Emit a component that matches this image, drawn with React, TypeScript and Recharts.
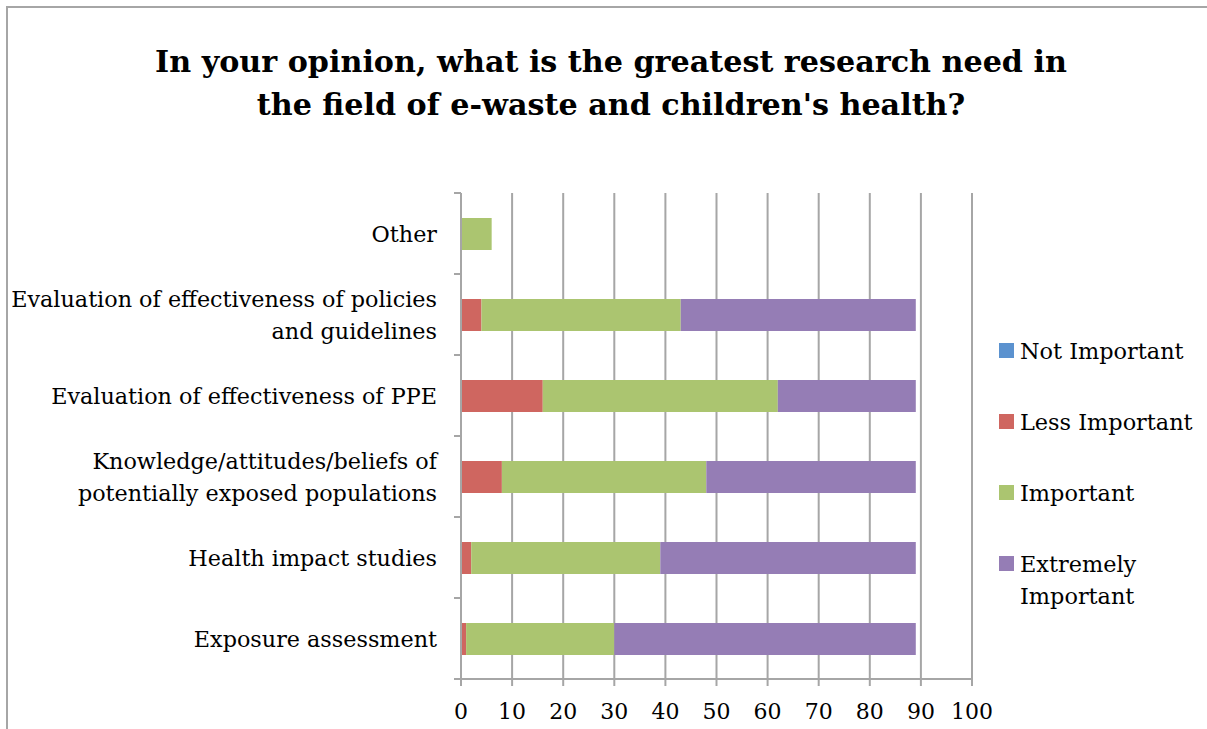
import React from "react";
import { BarChart, Bar, XAxis, YAxis, CartesianGrid, Legend } from "recharts";

const categories = [
  "Other",
  "Evaluation of effectiveness of policies\nand guidelines",
  "Evaluation of effectiveness of PPE",
  "Knowledge/attitudes/beliefs of\npotentially exposed populations",
  "Health impact studies",
  "Exposure assessment",
];
const seriesNames = ["Not Important", "Less Important", "Important", "Extremely Important"];
const notImportant = [0, 0, 0, 0, 0, 0];
const lessImportant = [0, 4, 16, 8, 2, 1];
const important = [6, 39, 46, 40, 37, 29];
const extremelyImportant = [0, 46, 27, 41, 50, 59];
const xTicks = [0, 10, 20, 30, 40, 50, 60, 70, 80, 90, 100];
const titleLines = [
  "In your opinion, what is the greatest research need in",
  "the field of e-waste and children's health?",
];

const data = categories.map((name, i) => ({
  name,
  notImportant: notImportant[i],
  lessImportant: lessImportant[i],
  important: important[i],
  extremelyImportant: extremelyImportant[i],
}));

const FONT = "'DejaVu Serif', serif";
const GRID = "#a6a6a6";

// labels can span two lines; the tick marks sit on the band edges, Excel style
function CategoryTick({ x, y, payload }: any) {
  const lines = String(payload.value).split("\n");
  const half = payload.offset || 40.5;
  const lh = 32;
  const y0 = y - ((lines.length - 1) * lh) / 2;
  return (
    <g>
      <line x1={x - 7} x2={x} y1={y - half} y2={y - half} stroke={GRID} strokeWidth={2} />
      <line x1={x - 7} x2={x} y1={y + half} y2={y + half} stroke={GRID} strokeWidth={2} />
      <text textAnchor="end" fontSize={22.3} fontFamily={FONT} fill="#000">
        {lines.map((l, i) => (
          <tspan key={i} x={x - 24} y={y0 + i * lh} dy="0.36em">
            {l}
          </tspan>
        ))}
      </text>
    </g>
  );
}

function LegendList({ payload }: any) {
  const items = [...(payload || [])].sort(
    (a: any, b: any) => seriesNames.indexOf(a.value) - seriesNames.indexOf(b.value)
  );
  return (
    <div style={{ fontFamily: FONT, fontSize: 22.4, lineHeight: "32px", color: "#000" }}>
      {items.map((p: any, i: number) => (
        <div key={i} style={{ display: "flex", alignItems: "flex-start", marginBottom: 39 }}>
          <span
            style={{ width: 15, height: 15, background: p.color, marginTop: 8, marginRight: 6, flex: "none" }}
          />
          <span style={{ width: 185 }}>{p.value}</span>
        </div>
      ))}
    </div>
  );
}

export default function App() {
  return (
    <div
      style={{
        position: "absolute",
        left: 0,
        top: 0,
        width: 1207,
        height: 729,
        background: "#fff",
        overflow: "hidden",
      }}
    >
      <div
        style={{
          position: "absolute",
          left: 6,
          top: 6,
          width: 1300,
          height: 900,
          border: `2px solid ${GRID}`,
        }}
      />
      <svg
        width={1207}
        height={140}
        style={{ position: "absolute", left: 0, top: 0, pointerEvents: "none" }}
      >
        {titleLines.map((t, i) => (
          <text
            key={i}
            x={611}
            y={72 + i * 43}
            textAnchor="middle"
            fontFamily={FONT}
            fontWeight="bold"
            fontSize={30.2}
            fill="#000"
          >
            {t}
          </text>
        ))}
      </svg>
      <div style={{ position: "absolute", left: 0, top: 0 }}>
        <BarChart
          width={1207}
          height={729}
          data={data}
          layout="vertical"
          margin={{ top: 193, right: 235, bottom: 4, left: 11 }}
          barSize={32}
        >
          <CartesianGrid horizontal={false} stroke={GRID} strokeWidth={2} />
          <XAxis
            type="number"
            domain={[0, 100]}
            ticks={xTicks}
            interval={0}
            height={46}
            tickSize={7}
            tickMargin={17}
            axisLine={{ stroke: GRID, strokeWidth: 2 }}
            tickLine={{ stroke: GRID, strokeWidth: 2 }}
            tick={{ fontSize: 22, fill: "#000", fontFamily: FONT }}
          />
          <YAxis
            type="category"
            dataKey="name"
            width={450}
            interval={0}
            tickLine={false}
            tickSize={0}
            tickMargin={0}
            axisLine={{ stroke: GRID, strokeWidth: 2 }}
            tick={<CategoryTick />}
          />
          <Legend
            layout="vertical"
            align="center"
            verticalAlign="middle"
            content={<LegendList />}
            wrapperStyle={{ position: "absolute", left: 999, top: 335, width: 208 }}
          />
          <Bar dataKey="notImportant" name="Not Important" stackId="a" fill="#5b92cf" isAnimationActive={false} />
          <Bar dataKey="lessImportant" name="Less Important" stackId="a" fill="#cf6660" isAnimationActive={false} />
          <Bar dataKey="important" name="Important" stackId="a" fill="#abc570" isAnimationActive={false} />
          <Bar
            dataKey="extremelyImportant"
            name="Extremely Important"
            stackId="a"
            fill="#957db5"
            isAnimationActive={false}
          />
        </BarChart>
      </div>
    </div>
  );
}
